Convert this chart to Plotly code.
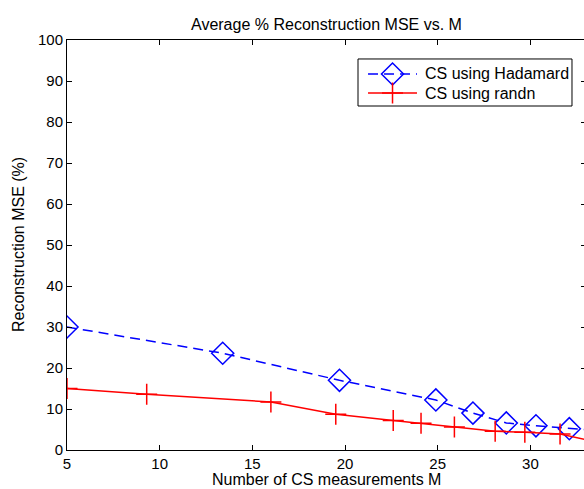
import plotly.graph_objects as go

# values
m_hadamard = [5.0, 13.4, 19.7, 24.9, 26.9, 28.7, 30.3, 32.1, 34.0]
mse_hadamard = [30.0, 23.6, 17.0, 12.2, 9.0, 6.6, 5.9, 5.2, 4.6]

m_randn = [5.0, 9.3, 16.0, 19.5, 22.6, 24.1, 25.9, 28.1, 29.7, 31.6, 34.0]
mse_randn = [15.0, 13.6, 11.7, 8.7, 7.2, 6.5, 5.6, 4.6, 4.3, 3.9, 1.5]

x_ticks = [5, 10, 15, 20, 25, 30]
y_ticks = [0, 10, 20, 30, 40, 50, 60, 70, 80, 90, 100]

legend_names = ["CS using Hadamard", "CS using randn"]

FONT = "Liberation Sans, Arial, Helvetica, sans-serif"
BLUE, RED = "#0000ff", "#ff0000"

hadamard_line = dict(color=BLUE, width=1.5, dash="10px,6px")
hadamard_marker = dict(symbol="diamond-open", size=17, color=BLUE, line=dict(width=1.5))
randn_line = dict(color=RED, width=1.5)
randn_marker = dict(symbol="cross-thin-open", size=15, color=RED, line=dict(width=1.5, color=RED))

fig = go.Figure()

fig.add_trace(go.Scatter(
    x=m_hadamard, y=mse_hadamard, mode="lines+markers", name=legend_names[0],
    line=hadamard_line, marker=hadamard_marker,
))
fig.add_trace(go.Scatter(
    x=m_randn, y=mse_randn, mode="lines+markers", name=legend_names[1],
    line=randn_line, marker=randn_marker,
))

# MATLAB-style legend box, drawn on an overlay axis that spans the plot area 0..1
# (plotly's own legend spaces its rows too far apart)
leg_x0, leg_x1 = 0.5607, 0.9730
leg_y0, leg_y1 = 0.8390, 0.9537
row_y = [0.9171, 0.8707]
sample_x0, sample_x1 = 0.5800, 0.6744
text_x = 0.6859

for name, yy, line, marker in [(legend_names[0], row_y[0], hadamard_line, hadamard_marker),
                               (legend_names[1], row_y[1], randn_line, randn_marker)]:
    fig.add_trace(go.Scatter(
        x=[sample_x0, sample_x1], y=[yy, yy], mode="lines", line=line,
        xaxis="x2", yaxis="y2", showlegend=False, hoverinfo="skip",
    ))
    fig.add_trace(go.Scatter(
        x=[(sample_x0 + sample_x1) / 2], y=[yy], mode="markers", marker=marker,
        xaxis="x2", yaxis="y2", showlegend=False, hoverinfo="skip",
    ))

axis_common = dict(
    showline=True, linecolor="black", linewidth=1, mirror="ticks",
    ticks="inside", ticklen=5, tickcolor="black", tickwidth=1,
    showgrid=False, zeroline=False,
    tickfont=dict(family=FONT, size=15, color="black"),
)
overlay_axis = dict(range=[0, 1], visible=False, fixedrange=True)

# the original axes run slightly past the right edge of the picture
fig.update_layout(
    width=586, height=489,
    margin=dict(l=67, r=0, t=40, b=39),
    paper_bgcolor="white", plot_bgcolor="white",
    font=dict(family=FONT, size=16, color="black"),
    showlegend=False,
    xaxis=dict(range=[5, 33], tickvals=x_ticks, **axis_common),
    yaxis=dict(range=[0, 100], tickvals=y_ticks, **axis_common),
    xaxis2=dict(overlaying="x", **overlay_axis),
    yaxis2=dict(overlaying="y", **overlay_axis),
    shapes=[
        dict(type="rect", xref="paper", yref="paper", x0=leg_x0, x1=leg_x1, y0=leg_y0, y1=leg_y1,
             line=dict(color="black", width=1), fillcolor="white", layer="below"),
    ],
    annotations=[
        dict(text="Average % Reconstruction MSE vs. M", xref="paper", yref="paper",
             x=0.5, y=1, yshift=16, showarrow=False, font=dict(size=16), yanchor="middle"),
        dict(text="Number of CS measurements M", xref="paper", yref="paper",
             x=0.5, y=0, yshift=-29, showarrow=False, font=dict(size=16), yanchor="middle"),
        dict(text="Reconstruction MSE (%)", xref="paper", yref="paper",
             x=0, y=0.5, xshift=-49, showarrow=False, textangle=-90, font=dict(size=16),
             xanchor="center"),
    ] + [
        dict(text=name, xref="paper", yref="paper", x=text_x, y=yy, xanchor="left",
             yanchor="middle", showarrow=False, font=dict(size=16))
        for name, yy in zip(legend_names, row_y)
    ],
)

# drop the default page margin so the figure sits at the window's top-left corner
fig.write_html(
    "out.html",
    config={"displayModeBar": False},
    post_script="document.body.style.margin='0';document.body.style.overflow='hidden';",
)
